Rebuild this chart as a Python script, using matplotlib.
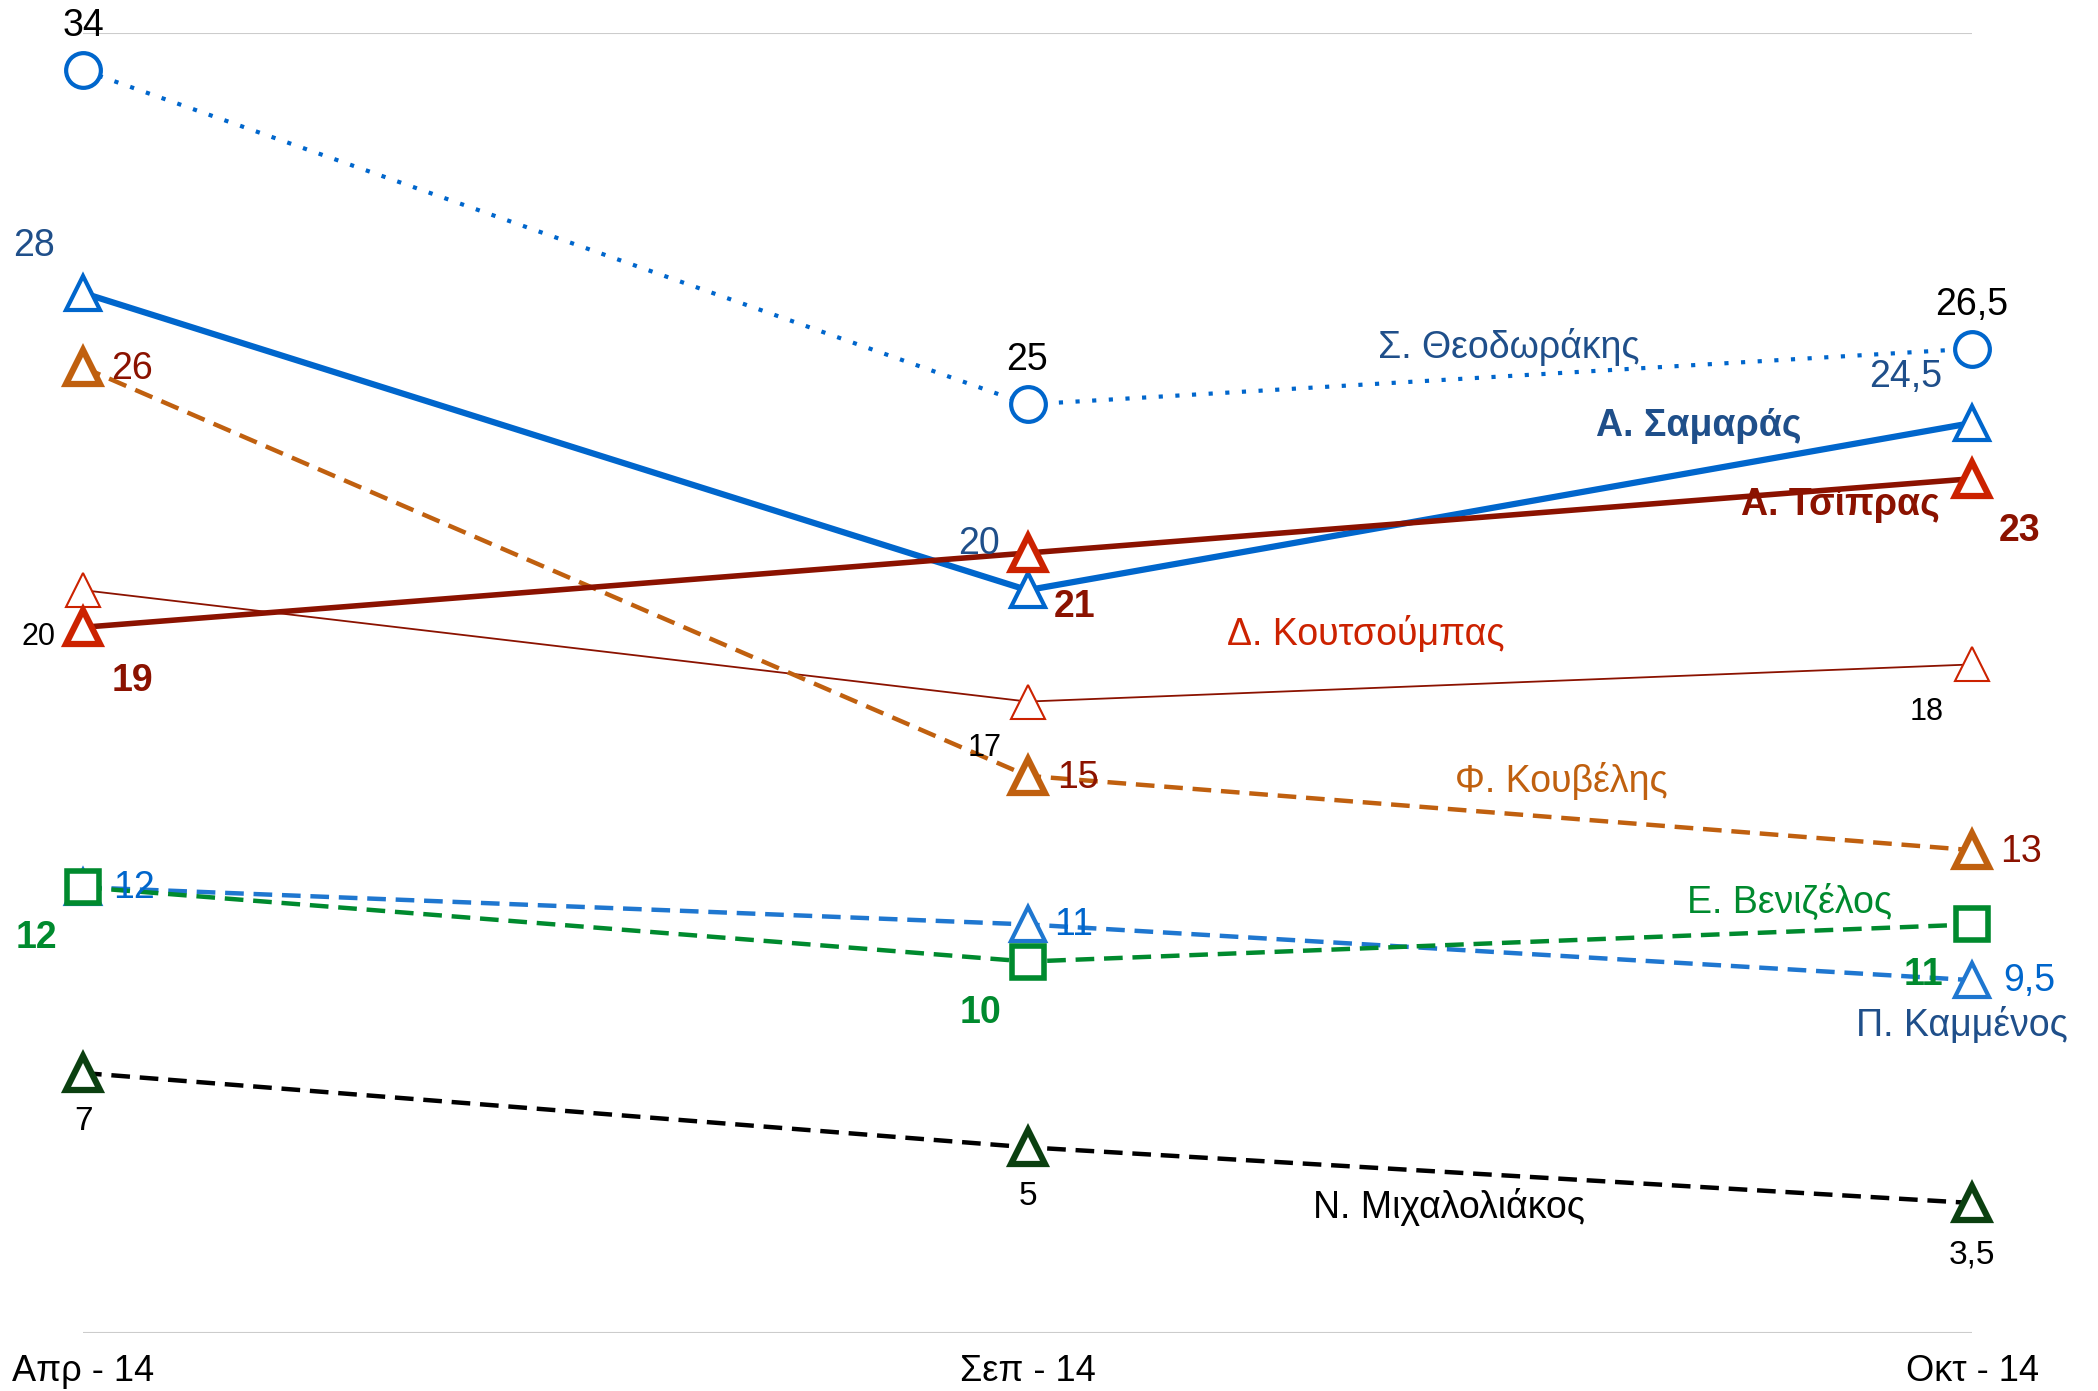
import matplotlib
matplotlib.use('Agg')
import matplotlib.pyplot as plt

plt.rcParams['font.family'] = ['Liberation Sans', 'DejaVu Sans']

# data
periods = ['Απρ - 14', 'Σεπ - 14', 'Οκτ - 14']
theodorakis = [34, 25, 26.5]
samaras = [28, 20, 24.5]
tsipras = [19, 21, 23]
koutsoumpas = [20, 17, 18]
kouvelis = [26, 15, 13]
kammenos = [12, 11, 9.5]
venizelos = [12, 10, 11]
michaloliakos = [7, 5, 3.5]

DBLUE = '#1f4f8a'
BLUE = '#0066cc'
LBLUE = '#1f77d0'
DRED = '#8b1200'
RED = '#cc2200'
ORANGE = '#c0600f'
GREEN = '#008a2e'
DGREEN = '#0b4010'

fig = plt.figure(figsize=(20.98, 13.91), dpi=100)
ax = fig.add_axes([83 / 2098, 58 / 1391, 1889 / 2098, 1300 / 1391])
x = range(len(periods))

ax.axhline(0, color='#cccccc', lw=1.5, zorder=0)
ax.axhline(35, color='#cccccc', lw=1.5, zorder=0)

dash = (0, (4.2, 2.2))
ax.plot(x, theodorakis, color=BLUE, lw=3, ls=(0, (1, 3)), marker='o', ms=25,
        mfc='white', mec=BLUE, mew=3, clip_on=False, zorder=3)
ax.plot(x, koutsoumpas, color=DRED, lw=1.3, marker='^', ms=25,
        mfc='white', mec=RED, mew=1.5, clip_on=False, zorder=3)
ax.plot(x, kouvelis, color=ORANGE, lw=3.2, ls=dash, marker='^', ms=24,
        mfc='white', mec=ORANGE, mew=4.5, clip_on=False, zorder=3)
ax.plot(x, kammenos, color=LBLUE, lw=3.2, ls=dash, marker='^', ms=25,
        mfc='white', mec=LBLUE, mew=3, clip_on=False, zorder=3)
ax.plot(x, venizelos, color=GREEN, lw=3.2, ls=dash, marker='s', ms=23,
        mfc='white', mec=GREEN, mew=4, clip_on=False, zorder=3)
ax.plot(x, michaloliakos, color='black', lw=3.2, ls=dash, marker='^', ms=24,
        mfc='white', mec=DGREEN, mew=4.5, clip_on=False, zorder=3)
ax.plot(x, samaras, color=BLUE, lw=4.5, marker='^', ms=25,
        mfc='white', mec=BLUE, mew=3, clip_on=False, zorder=4)
ax.plot(x, tsipras, color=DRED, lw=4, marker='^', ms=24,
        mfc='white', mec=RED, mew=4.5, clip_on=False, zorder=4)


def fmt(v):
    return f'{v:g}'.replace('.', ',')


def lab(series, i, dx, dy, color, size=27, weight='normal'):
    ax.annotate(fmt(series[i]), (i, series[i]), xytext=(dx * 0.72, dy * 0.72),
                textcoords='offset points', ha='center', va='center',
                fontsize=size, color=color, fontweight=weight, zorder=6,
                annotation_clip=False)


lab(theodorakis, 0, 0, 44, 'black')
lab(theodorakis, 1, 0, 44, 'black')
lab(theodorakis, 2, 0, 44, 'black')
lab(samaras, 0, -49, 47, DBLUE)
lab(samaras, 1, -48, 46, DBLUE)
lab(samaras, 2, -66, 46, DBLUE)
lab(tsipras, 0, 49, -54, DRED, weight='bold')
lab(tsipras, 1, 47, -54, DRED, weight='bold')
lab(tsipras, 2, 48, -52, DRED, weight='bold')
lab(koutsoumpas, 0, -45, -47, 'black', size=22)
lab(koutsoumpas, 1, -43, -46, 'black', size=22)
lab(koutsoumpas, 2, -45, -48, 'black', size=22)
lab(kouvelis, 0, 49, -2, DRED)
lab(kouvelis, 1, 50, -2, DRED)
lab(kouvelis, 2, 49, -2, DRED)
lab(kammenos, 0, 51, -1, BLUE)
lab(kammenos, 1, 46, -1, BLUE)
lab(kammenos, 2, 57, -1, BLUE)
lab(venizelos, 0, -47, -51, GREEN, weight='bold')
lab(venizelos, 1, -47, -51, GREEN, weight='bold')
lab(venizelos, 2, -49, -51, GREEN, weight='bold')
lab(michaloliakos, 0, 0, -48, 'black', size=24)
lab(michaloliakos, 1, 0, -49, 'black', size=24)
lab(michaloliakos, 2, 0, -52, 'black', size=24)

# names of the leaders
names = [
    ('Σ. Θεοδωράκης', 1.509, 26.55, DBLUE, 'normal'),
    ('Α. Σαμαράς', 1.711, 24.43, DBLUE, 'bold'),
    ('Α. Τσίπρας', 1.861, 22.28, DRED, 'bold'),
    ('Δ. Κουτσούμπας', 1.358, 18.8, RED, 'normal'),
    ('Φ. Κουβέλης', 1.565, 14.85, ORANGE, 'normal'),
    ('Ε. Βενιζέλος', 1.807, 11.58, GREEN, 'normal'),
    ('Π. Καμμένος', 1.989, 8.28, DBLUE, 'normal'),
    ('Ν. Μιχαλολιάκος', 1.446, 3.4, 'black', 'normal'),
]
for txt, tx, ty, c, w in names:
    ax.text(tx, ty, txt, ha='center', va='center', fontsize=27, color=c,
            fontweight=w, zorder=6, clip_on=False)

ax.set_xlim(0, 2)
ax.set_ylim(0, 35)
ax.set_xticks(list(x))
ax.set_xticklabels(periods, fontsize=26)
ax.tick_params(axis='x', length=0, pad=15)
ax.set_yticks([])
for s in ax.spines.values():
    s.set_visible(False)

fig.savefig('out.png', dpi=100)
